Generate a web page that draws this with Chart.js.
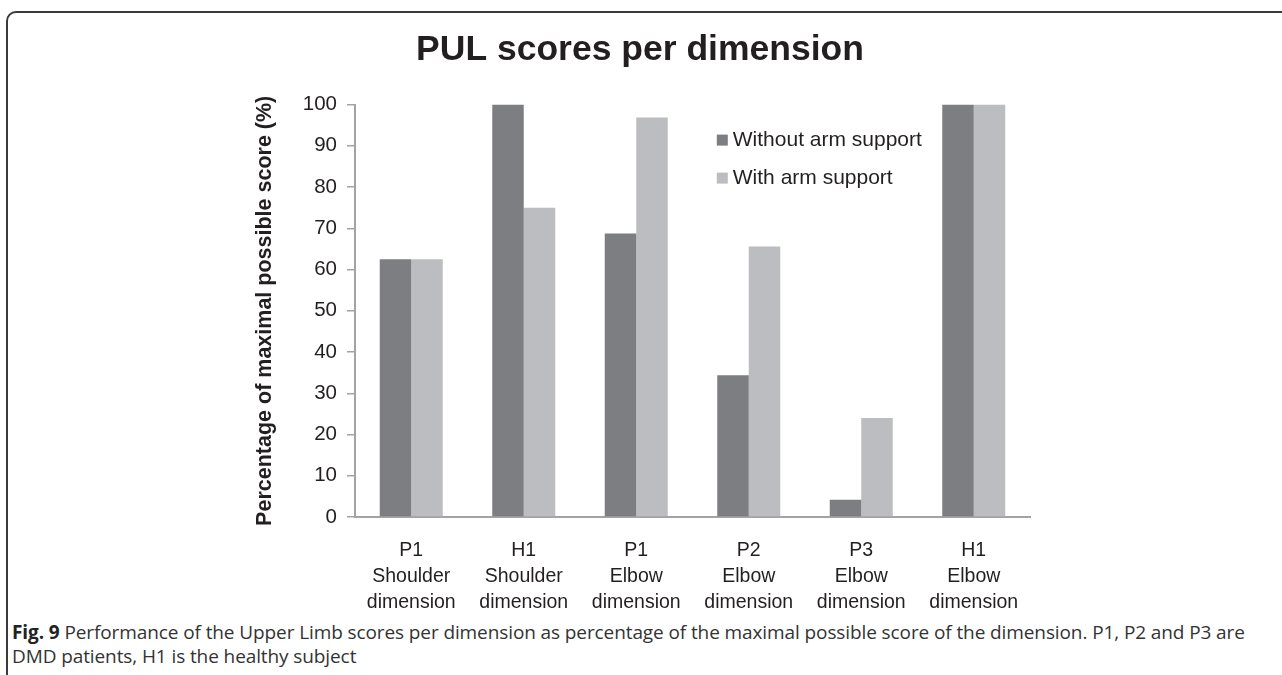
<!DOCTYPE html>
<html>
<head>
<meta charset="utf-8">
<script src="https://cdn.jsdelivr.net/npm/chart.js@4"></script>
<style>
  html, body { margin: 0; padding: 0; background: #fff; overflow: hidden; }
  body { width: 1282px; height: 675px; position: relative; }
  #frame {
    position: absolute; left: 6px; top: 11px; width: 1300px; height: 680px;
    border: 2px solid #3a3a3a; border-radius: 10px; box-sizing: border-box;
  }
  #wrap { position: absolute; left: 0; top: 0; width: 1282px; height: 615px; }
  #caption {
    position: absolute; left: 12px; top: 620px; width: 1262px;
    font-family: 'Open Sans', sans-serif; font-size: 19px; line-height: 24px; color: #333;
    letter-spacing: -0.1px;
  }
  #caption b { color: #222; }
</style>
</head>
<body>
<div id="frame"></div>
<div id="wrap"><canvas id="grafico"></canvas></div>
<div id="caption"><b>Fig. 9</b> Performance of the Upper Limb scores per dimension as percentage of the maximal possible score of the dimension. P1, P2 and P3 are DMD patients, H1 is the healthy subject</div>
<script>
// dados
const categorias = [
  ['P1', 'Shoulder', 'dimension'],
  ['H1', 'Shoulder', 'dimension'],
  ['P1', 'Elbow', 'dimension'],
  ['P2', 'Elbow', 'dimension'],
  ['P3', 'Elbow', 'dimension'],
  ['H1', 'Elbow', 'dimension']
]
const semSuporte = [62.5, 100, 68.75, 34.4, 4.2, 100]
const comSuporte = [62.5, 75, 96.9, 65.6, 24, 100]
const yTicks = [0, 10, 20, 30, 40, 50, 60, 70, 80, 90, 100]

// legenda desenhada dentro da area do grafico
const legendaInterna = {
  id: 'legendaInterna',
  afterDraw(chart) {
    const ctx = chart.ctx
    const area = chart.chartArea
    const x0 = area.left + (area.right - area.left) * 0.536
    ctx.save()
    ctx.font = '21px "Liberation Sans", Arial, sans-serif'
    ctx.textBaseline = 'middle'
    chart.data.datasets.forEach(function (ds, i) {
      const y = area.top + 36 + i * 38
      ctx.fillStyle = ds.backgroundColor
      ctx.fillRect(x0, y - 6, 11, 11)
      ctx.fillStyle = '#231f20'
      ctx.fillText(ds.label, x0 + 16, y)
    })
    ctx.restore()
  }
}

const ctx = document.getElementById('grafico').getContext('2d')
new Chart(ctx, {
  type: 'bar',
  data: {
    labels: categorias,
    datasets: [
      { label: 'Without arm support', data: semSuporte, backgroundColor: '#7d7e82' },
      { label: 'With arm support', data: comSuporte, backgroundColor: '#bcbdc1' }
    ]
  },
  options: {
    responsive: true,
    maintainAspectRatio: false,
    animation: false,
    datasets: { bar: { categoryPercentage: 0.56, barPercentage: 1 } },
    layout: { padding: { left: 250, right: 252, top: 0, bottom: 0 } },
    plugins: {
      legend: { display: false },
      tooltip: { enabled: false },
      title: {
        display: true,
        text: 'PUL scores per dimension',
        color: '#231f20',
        font: { family: '"Liberation Sans", Arial, sans-serif', size: 35.5, weight: 'bold' },
        padding: { top: 29, bottom: 33 }
      }
    },
    scales: {
      x: {
        grid: { display: false },
        border: { display: true, color: '#a3a3a3', width: 2 },
        ticks: {
          color: '#231f20',
          padding: 12,
          maxRotation: 0,
          font: { family: '"Liberation Sans", Arial, sans-serif', size: 19.5, lineHeight: 1.35 }
        },
        afterFit: function (s) { s.height = 98 }
      },
      y: {
        min: 0,
        max: 100,
        afterBuildTicks: function (s) { s.ticks = yTicks.map(function (v) { return { value: v } }) },
        grid: { drawOnChartArea: false, drawTicks: true, tickLength: 8, color: '#a3a3a3', lineWidth: 1.5 },
        border: { display: true, color: '#a3a3a3', width: 2 },
        ticks: {
          color: '#231f20',
          padding: 10,
          font: { family: '"Liberation Sans", Arial, sans-serif', size: 20.5 }
        },
        title: {
          display: true,
          text: 'Percentage of maximal possible score (%)',
          color: '#231f20',
          padding: { top: 2, bottom: 0 },
          font: { family: '"Liberation Sans", Arial, sans-serif', size: 21.5, weight: 'bold' }
        },
        afterFit: function (s) { s.width = 105 }
      }
    }
  },
  plugins: [legendaInterna]
})
</script>
</body>
</html>
